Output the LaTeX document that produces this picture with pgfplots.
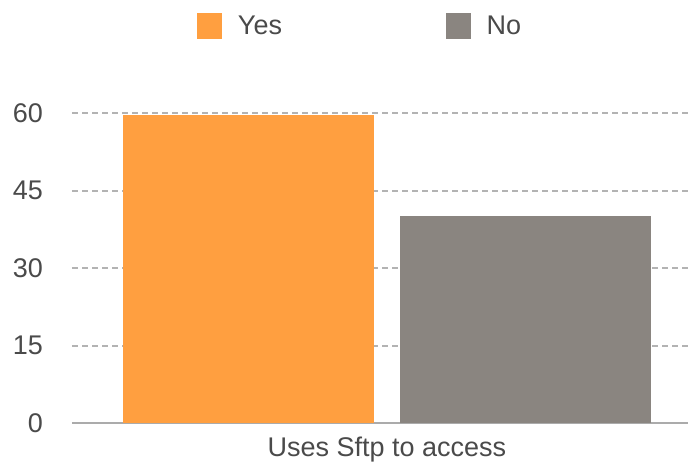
\documentclass[border=0pt]{standalone}
\usepackage{fontspec}
\setmainfont{Liberation Sans}
\usepackage{pgfplots}
\pgfplotsset{compat=1.18}
\definecolor{yesorange}{HTML}{FF9F40}
\definecolor{nogrey}{HTML}{8A8580}
\definecolor{txt}{HTML}{4A4A4A}
\definecolor{gridc}{HTML}{B3B3B3}
\definecolor{axisc}{HTML}{ABABAB}
\newcommand{\chartfont}{\fontsize{27}{31}\selectfont}
\begin{document}
\begin{tikzpicture}[x=1pt,y=1pt]
\begin{axis}[
  at={(72pt,-423pt)}, anchor=south west,
  scale only axis, width=616pt, height=310pt,
  xmin=-0.5, xmax=0.478, ymin=0, ymax=60,
  /pgf/number format/assume math mode=true,
  axis line style={draw=none},
  major tick length=0pt,
  ytick={15,30,45,60},
  extra y ticks={0},
  extra y tick style={grid style={solid, draw=axisc, line width=2pt}},
  ymajorgrids,
  grid style={draw=gridc, line width=2pt, dash pattern=on 6pt off 4pt},
  xtick={0}, xticklabels={Uses Sftp to access},
  tick label style={font=\chartfont, text=txt},
  yticklabel style={anchor=east, inner sep=0pt, xshift=-29pt},
  xticklabel style={anchor=north, inner sep=0pt, yshift=-14pt},
  ybar, bar width=0.398,
  legend columns=2,
  legend style={at={(rel axis cs:0.2029,1.3226)}, anchor=north west,
    draw=none, fill=none, inner sep=0pt, outer sep=0pt,
    font=\chartfont, text=txt, nodes={inner sep=0pt},
    /tikz/every odd column/.append style={column sep=16pt},
    /tikz/every even column/.append style={column sep=163.5pt}},
  legend cell align=left,
  legend image code/.code={\fill[#1] (0pt,-13pt) rectangle (25pt,13pt);},
]
\addplot[fill=yesorange, draw=none, bar shift=-0.22] coordinates {(0,59.6)};
\addlegendentry{Yes}
\addplot[fill=nogrey, draw=none, bar shift=0.22] coordinates {(0,40)};
\addlegendentry{No}
\end{axis}
\pgfresetboundingbox
\path[use as bounding box] (0,0) rectangle (688,-463);
\end{tikzpicture}
\end{document}
